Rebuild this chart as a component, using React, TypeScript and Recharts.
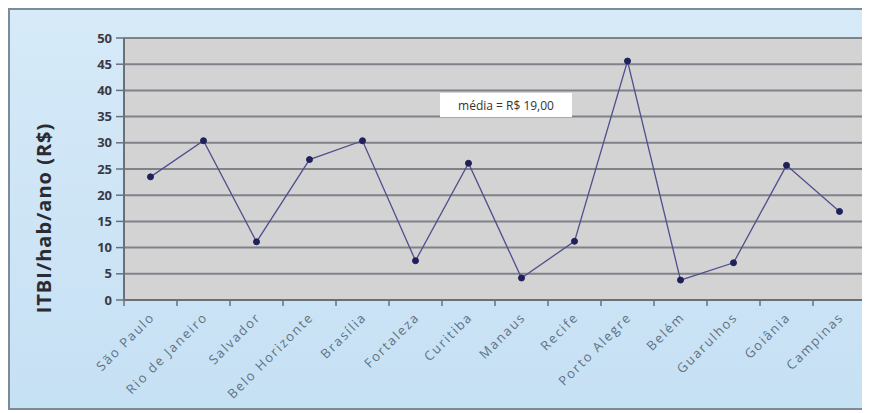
import { CartesianGrid, Line, LineChart, XAxis, YAxis } from "recharts";

const cities = [
  "São Paulo",
  "Rio de Janeiro",
  "Salvador",
  "Belo Horizonte",
  "Brasília",
  "Fortaleza",
  "Curitiba",
  "Manaus",
  "Recife",
  "Porto Alegre",
  "Belém",
  "Guarulhos",
  "Goiânia",
  "Campinas",
];
const itbi = [23.5, 30.4, 11.1, 26.8, 30.4, 7.5, 26.1, 4.2, 11.2, 45.6, 3.8, 7.1, 25.7, 16.9];
const yTicks = [0, 5, 10, 15, 20, 25, 30, 35, 40, 45, 50];

const data = cities.map((city, i) => ({ city, value: itbi[i] }));

const W = 860;
const H = 402;
const HALF_BAND = 742 / cities.length / 2;

function CityTick(props: any) {
  const { x, y, payload, index } = props;
  return (
    <g>
      <line x1={x - HALF_BAND} x2={x - HALF_BAND} y1={y - 8} y2={y - 2} stroke="#6b6f78" strokeWidth={1.5} />
      {index === cities.length - 1 && (
        <line x1={x + HALF_BAND} x2={x + HALF_BAND} y1={y - 8} y2={y - 2} stroke="#6b6f78" strokeWidth={1.5} />
      )}
      <text
        x={x + 5}
        y={y + 10}
        textAnchor="end"
        transform={`rotate(-45, ${x + 5}, ${y + 10})`}
        fill="#5f7184"
        fontSize={13}
        letterSpacing={1.8}
        fontFamily="'Open Sans', sans-serif"
      >
        {payload.value}
      </text>
    </g>
  );
}

function AxisTitle() {
  const cx = 35;
  const cy = 210;
  return (
    <text
      x={cx}
      y={cy}
      transform={`rotate(-90, ${cx}, ${cy})`}
      textAnchor="middle"
      dominantBaseline="central"
      fill="#2b2b33"
      fontSize={20}
      letterSpacing={1}
      fontWeight="bold"
      fontFamily="'Open Sans', sans-serif"
    >
      ITBI/hab/ano (R$)
    </text>
  );
}

export default function App() {
  return (
    <div
      style={{
        position: "relative",
        width: W,
        height: H,
        boxSizing: "border-box",
        border: "2px solid #7d8b99",
        background: "linear-gradient(#d6eaf8, #c6e0f4)",
      }}
    >
      <div style={{ position: "absolute", left: -2, top: -2 }}>
        <LineChart width={W} height={H} data={data} margin={{ top: 30, right: 2, left: 0, bottom: 0 }}>
          <CartesianGrid
            vertical={false}
            fill="#d3d3d3"
            stroke="#80828a"
            strokeWidth={2}
          />
          <XAxis
            dataKey="city"
            scale="band"
            interval={0}
            height={110}
            tickLine={false}
            axisLine={{ stroke: "#6b6f78", strokeWidth: 2 }}
            tick={<CityTick />}
          />
          <YAxis
            width={116}
            domain={[0, 50]}
            ticks={yTicks}
            interval={0}
            tickSize={8}
            tickMargin={4}
            tickLine={{ stroke: "#6b6f78", strokeWidth: 1.5 }}
            axisLine={{ stroke: "#6b6f78", strokeWidth: 2 }}
            tick={{ fill: "#3a3a44", fontSize: 13, fontWeight: "bold", fontFamily: "'Open Sans', sans-serif" }}
            label={<AxisTitle />}
          />
          <Line
            dataKey="value"
            stroke="#4f4f8f"
            strokeWidth={1.3}
            dot={{ r: 3, fill: "#20205a", stroke: "#20205a", strokeWidth: 1 }}
            isAnimationActive={false}
          />
        </LineChart>
      </div>
      <div
        style={{
          position: "absolute",
          left: 430,
          top: 83,
          width: 132,
          height: 24,
          background: "#ffffff",
          boxSizing: "border-box",
          display: "flex",
          alignItems: "center",
          justifyContent: "center",
          fontFamily: "'Open Sans', sans-serif",
          fontSize: 12,
          color: "#333",
        }}
      >
        média = R$ 19,00
      </div>
    </div>
  );
}
